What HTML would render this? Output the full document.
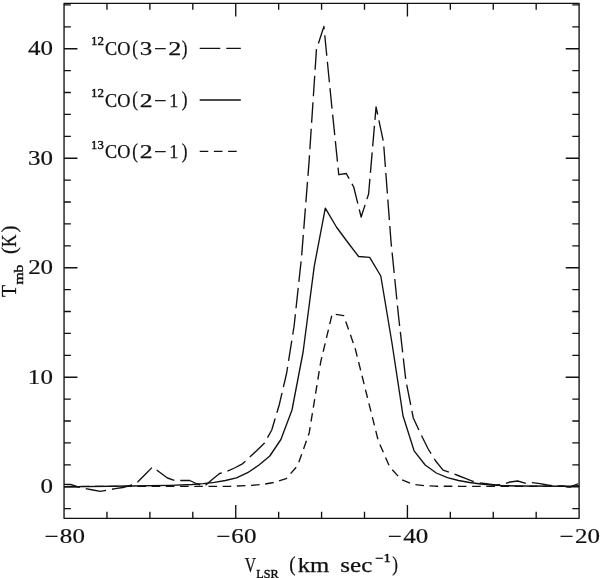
<!DOCTYPE html>
<html lang="en"><head><meta charset="utf-8"><title>CO spectra</title>
<style>
html,body{margin:0;padding:0;background:#fff;}
svg{display:block;}
text{font-family:"Liberation Serif", "DejaVu Serif", serif;fill:#111;stroke:#111;stroke-width:0.25px;stroke-linejoin:round;}
text.s,tspan.s{stroke-width:0.45px;}
text.d{stroke-width:0.2px;}
</style></head><body>
<svg width="600" height="578" viewBox="0 0 600 578">
<rect width="600" height="578" fill="#fff"/>
<path d="M64.05 3.3H579.1V518.3H64.05ZM64.05 518.3v-13.2M64.05 3.3v13.2M106.97 518.3v-6.5M106.97 3.3v6.5M149.89 518.3v-6.5M149.89 3.3v6.5M192.81 518.3v-6.5M192.81 3.3v6.5M235.73 518.3v-13.2M235.73 3.3v13.2M278.65 518.3v-6.5M278.65 3.3v6.5M321.58 518.3v-6.5M321.58 3.3v6.5M364.50 518.3v-6.5M364.50 3.3v6.5M407.42 518.3v-13.2M407.42 3.3v13.2M450.34 518.3v-6.5M450.34 3.3v6.5M493.26 518.3v-6.5M493.26 3.3v6.5M536.18 518.3v-6.5M536.18 3.3v6.5M579.10 518.3v-13.2M579.10 3.3v13.2M64.05 508.60h6.8M579.1 508.60h-6.8M64.05 486.70h13.4M579.1 486.70h-13.4M64.05 464.80h6.8M579.1 464.80h-6.8M64.05 442.90h6.8M579.1 442.90h-6.8M64.05 421.00h6.8M579.1 421.00h-6.8M64.05 399.10h6.8M579.1 399.10h-6.8M64.05 377.20h13.4M579.1 377.20h-13.4M64.05 355.30h6.8M579.1 355.30h-6.8M64.05 333.40h6.8M579.1 333.40h-6.8M64.05 311.50h6.8M579.1 311.50h-6.8M64.05 289.60h6.8M579.1 289.60h-6.8M64.05 267.70h13.4M579.1 267.70h-13.4M64.05 245.80h6.8M579.1 245.80h-6.8M64.05 223.90h6.8M579.1 223.90h-6.8M64.05 202.00h6.8M579.1 202.00h-6.8M64.05 180.10h6.8M579.1 180.10h-6.8M64.05 158.20h13.4M579.1 158.20h-13.4M64.05 136.30h6.8M579.1 136.30h-6.8M64.05 114.40h6.8M579.1 114.40h-6.8M64.05 92.50h6.8M579.1 92.50h-6.8M64.05 70.60h6.8M579.1 70.60h-6.8M64.05 48.70h13.4M579.1 48.70h-13.4M64.05 26.80h6.8M579.1 26.80h-6.8M64.05 4.90h6.8M579.1 4.90h-6.8" fill="none" stroke="#111" stroke-width="1.35" stroke-linecap="butt" stroke-linejoin="round"/>
<g fill="none" stroke="#111" stroke-width="1.35" stroke-linejoin="round" stroke-linecap="butt">
<path d="M64.05 484.40L70.60 484.40L78.05 487.00L85.50 488.50L92.95 490.00L100.40 491.30L107.85 490.00L115.30 488.70L122.75 487.50L130.20 485.50L137.65 482.00L145.10 474.50L152.55 467.00L160.00 472.50L167.45 478.00L174.90 480.50L182.35 480.50L189.80 480.50L197.25 484.00L204.70 486.00L212.15 479.50L219.60 473.50L227.05 471.30L234.50 468.00L241.95 464.20L249.40 457.50L256.85 450.50L264.30 443.30L271.75 430.00L279.20 405.00L286.65 373.00L294.10 326.00L301.55 257.00L309.00 162.60L316.45 49.40L323.90 26.50L331.35 102.00L338.80 174.70L346.25 173.50L353.70 187.00L361.15 217.00L368.60 194.00L376.05 107.00L383.50 142.00L390.95 241.00L398.40 315.00L405.85 380.50L413.30 418.00L420.75 434.00L428.20 449.00L435.65 461.00L443.10 470.20L450.55 472.80L458.00 475.50L465.45 478.40L472.90 481.30L480.35 483.00L487.80 484.00L495.25 485.00L502.70 484.30L510.15 482.00L517.60 481.00L525.05 483.20L532.50 482.60L539.95 483.60L547.40 485.00L554.85 486.00L562.30 485.80L569.75 487.20L577.20 484.00L579.10 484.50" stroke-dasharray="20.6 6" stroke-dashoffset="4.3"/>
<path d="M64.05 486.90L130.00 486.00L170.00 485.30L192.10 484.50L203.20 483.70L214.30 482.30L225.40 480.50L236.50 477.80L247.60 472.70L258.70 465.30L269.80 456.00L280.90 439.50L292.00 410.00L303.10 352.00L314.20 266.60L325.30 208.10L336.40 227.00L347.50 242.00L358.60 256.50L369.70 257.30L380.80 276.00L391.90 342.50L403.00 415.70L414.10 450.80L425.20 465.00L436.30 473.00L447.40 477.60L458.50 480.50L469.60 482.50L480.70 484.00L491.80 485.00L502.90 485.60L520.00 486.00L570.00 486.20L579.10 485.60"/>
<path d="M64.05 486.30L230.00 486.30L251.50 485.40L263.20 484.30L274.70 482.30L286.20 478.70L297.70 465.50L309.20 433.00L320.70 362.00L332.20 313.80L343.70 315.60L355.20 348.50L366.70 394.50L378.20 440.50L389.70 467.00L401.20 479.50L412.70 484.30L424.20 485.70L435.70 486.20L460.00 486.30L579.10 486.30" stroke-dasharray="8.6 5.6" stroke-dashoffset="11.8"/>
<path d="M199.7 48.4H240.8" stroke-dasharray="20.6 6"/>
<path d="M199.7 100H240.8"/>
<path d="M199.7 151.3H240.8" stroke-dasharray="8.6 5.6"/>
</g>
<g>
<text class="d" transform="translate(0,493.40) scale(1.250,1.000)" font-size="20" x="32.40" y="0" xml:space="preserve">0</text>
<text class="d" transform="translate(0,383.90) scale(1.250,1.000)" font-size="20" x="22.12 32.40" y="0" xml:space="preserve">10</text>
<text class="d" transform="translate(0,274.40) scale(1.250,1.000)" font-size="20" x="22.51 32.40" y="0" xml:space="preserve">20</text>
<text class="d" transform="translate(0,164.90) scale(1.250,1.000)" font-size="20" x="22.31 32.40" y="0" xml:space="preserve">30</text>
<text class="d" transform="translate(0,55.40) scale(1.250,1.000)" font-size="20" x="22.36 32.40" y="0" xml:space="preserve">40</text>
<text class="d" transform="translate(0,542.70) scale(1.250,1.000)" font-size="20" x="35.63 47.88 57.96" y="0" xml:space="preserve">−80</text>
<text class="d" transform="translate(0,542.70) scale(1.250,1.000)" font-size="20" x="172.96 185.08 195.29" y="0" xml:space="preserve">−60</text>
<text class="d" transform="translate(0,542.70) scale(1.250,1.000)" font-size="20" x="310.30 322.51 332.63" y="0" xml:space="preserve">−40</text>
<text class="d" transform="translate(0,542.70) scale(1.250,1.000)" font-size="20" x="447.63 459.99 469.96" y="0" xml:space="preserve">−20</text>
<text><tspan class="s" x="91.06" y="45.40" font-size="13" textLength="12.95" lengthAdjust="spacingAndGlyphs">12</tspan><tspan x="105.05" y="55.00" font-size="19.5" textLength="25.29" lengthAdjust="spacingAndGlyphs">CO</tspan><tspan x="132.25" y="54.60" font-size="22" textLength="5.70" lengthAdjust="spacingAndGlyphs">(</tspan><tspan x="139.81" y="55.00" font-size="19.5" textLength="12.47" lengthAdjust="spacingAndGlyphs">3</tspan><tspan x="154.09" y="55.00" font-size="19.5" textLength="12.60" lengthAdjust="spacingAndGlyphs">−</tspan><tspan x="168.15" y="55.00" font-size="19.5" textLength="13.10" lengthAdjust="spacingAndGlyphs">2</tspan><tspan x="181.75" y="54.60" font-size="22" textLength="5.70" lengthAdjust="spacingAndGlyphs">)</tspan></text>
<text><tspan class="s" x="91.06" y="97.15" font-size="13" textLength="12.95" lengthAdjust="spacingAndGlyphs">12</tspan><tspan x="105.05" y="106.75" font-size="19.5" textLength="25.29" lengthAdjust="spacingAndGlyphs">CO</tspan><tspan x="132.25" y="106.35" font-size="22" textLength="5.70" lengthAdjust="spacingAndGlyphs">(</tspan><tspan x="139.87" y="106.75" font-size="19.5" textLength="12.85" lengthAdjust="spacingAndGlyphs">2</tspan><tspan x="154.09" y="106.75" font-size="19.5" textLength="12.60" lengthAdjust="spacingAndGlyphs">−</tspan><tspan x="169.20" y="106.75" font-size="19.5" textLength="9.09" lengthAdjust="spacingAndGlyphs">1</tspan><tspan x="181.75" y="106.35" font-size="22" textLength="5.70" lengthAdjust="spacingAndGlyphs">)</tspan></text>
<text><tspan class="s" x="91.08" y="148.80" font-size="13" textLength="12.71" lengthAdjust="spacingAndGlyphs">13</tspan><tspan x="105.05" y="158.40" font-size="19.5" textLength="25.29" lengthAdjust="spacingAndGlyphs">CO</tspan><tspan x="132.25" y="158.00" font-size="22" textLength="5.70" lengthAdjust="spacingAndGlyphs">(</tspan><tspan x="139.87" y="158.40" font-size="19.5" textLength="12.85" lengthAdjust="spacingAndGlyphs">2</tspan><tspan x="154.09" y="158.40" font-size="19.5" textLength="12.60" lengthAdjust="spacingAndGlyphs">−</tspan><tspan x="169.20" y="158.40" font-size="19.5" textLength="9.09" lengthAdjust="spacingAndGlyphs">1</tspan><tspan x="181.75" y="158.00" font-size="22" textLength="5.70" lengthAdjust="spacingAndGlyphs">)</tspan></text>
<text><tspan x="244.73" y="571.80" font-size="20" textLength="11.25" lengthAdjust="spacingAndGlyphs">V</tspan><tspan class="s" x="256.25" y="577.80" font-size="13.5" textLength="22.37" lengthAdjust="spacingAndGlyphs">LSR</tspan> <tspan x="289.26" y="571.40" font-size="22" textLength="6.35" lengthAdjust="spacingAndGlyphs">(</tspan><tspan x="297.73" y="571.80" font-size="20" textLength="31.56" lengthAdjust="spacingAndGlyphs">km</tspan> <tspan x="340.37" y="571.80" font-size="20" textLength="32.00" lengthAdjust="spacingAndGlyphs">sec</tspan><tspan class="s" x="375.17" y="562.40" font-size="12" textLength="15.61" lengthAdjust="spacingAndGlyphs">−1</tspan><tspan x="392.25" y="571.40" font-size="22" textLength="5.70" lengthAdjust="spacingAndGlyphs">)</tspan></text>
<text transform="rotate(-90)"><tspan x="-296.96" y="16.20" font-size="20" textLength="12.09" lengthAdjust="spacingAndGlyphs">T</tspan><tspan class="s" x="-284.63" y="22.70" font-size="13" textLength="20.03" lengthAdjust="spacingAndGlyphs">mb</tspan> <tspan x="-254.01" y="15.80" font-size="22" textLength="6.87" lengthAdjust="spacingAndGlyphs">(</tspan><tspan x="-247.31" y="16.20" font-size="20" textLength="12.79" lengthAdjust="spacingAndGlyphs">K</tspan><tspan x="-232.38" y="15.80" font-size="22" textLength="7.00" lengthAdjust="spacingAndGlyphs">)</tspan></text>
</g>
</svg>
</body></html>
